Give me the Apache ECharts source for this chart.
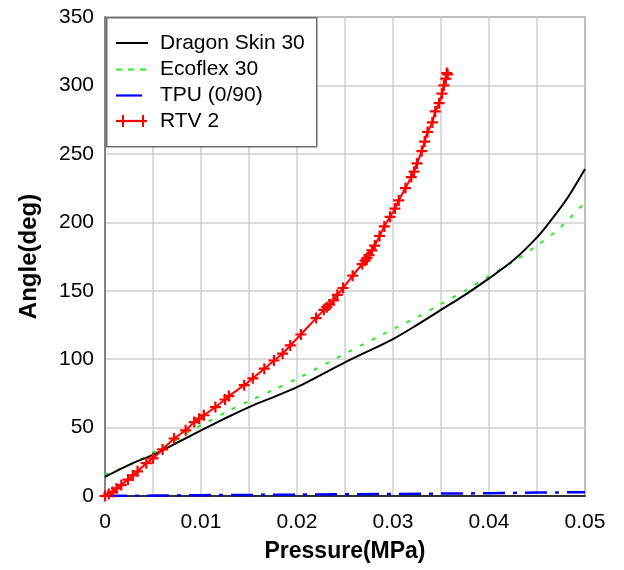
<!DOCTYPE html>
<html>
<head>
<meta charset="utf-8">
<script src="https://cdn.jsdelivr.net/npm/echarts@6/dist/echarts.min.js"></script>
<style>
html,body{margin:0;padding:0;background:#fff;}
#chart{width:624px;height:570px;}
</style>
</head>
<body>
<div id="chart"></div>
<script>
// ---- data (pressure in MPa, angle in deg) ----
const seriesNames = ['Dragon Skin 30', 'Ecoflex 30', 'TPU (0/90)', 'RTV 2'];

const dragonSkin = [
  [0,14],[0.0029,24],[0.005,30],[0.0078,40],[0.01,48],[0.0123,56],[0.015,65],
  [0.0178,73],[0.02,79.5],[0.025,97.7],[0.03,114.7],[0.0325,125],[0.035,136],[0.0375,147],
  [0.04,159],[0.0425,172],[0.045,189],[0.0464,201],[0.0481,217],[0.05,239]
];

const ecoflex = [
  [0,15.5],[0.0029,24],[0.0043,29],[0.0064,37],[0.0079,43],[0.009,48],[0.0104,53],
  [0.0128,62],[0.0152,70],[0.0177,78],[0.0203,86.7],[0.025,104],[0.0288,117.6],[0.03,121.8],
  [0.0326,131],[0.035,140.3],[0.0375,150],[0.04,160.7],[0.0425,171],[0.045,183],
  [0.0474,196],[0.0498,213],[0.05,215]
];

const tpu = [
  [0,0],[0.005,0.3],[0.01,0.6],[0.02,1],[0.03,1.5],[0.04,2],[0.045,2.5],[0.05,2.8]
];

const rtv2 = [
  [0,0],[0.0004,1.5],[0.0008,3],[0.0012,5.5],[0.0017,8],[0.0024,12],[0.0029,15],[0.0034,18],
  [0.0043,24],[0.005,27.5],[0.006,34],[0.0072,42],[0.0084,48],[0.0093,54],[0.0098,56.5],
  [0.0103,59],[0.0115,65],[0.0125,70.5],[0.0129,73],[0.0145,81],[0.0154,86],[0.0166,93],
  [0.0176,99],[0.0185,104],[0.0193,110],[0.0204,118],[0.022,130],[0.0228,136],
  [0.0231,138],[0.0234,140],[0.0238,143],[0.0242,147],[0.0248,152],[0.0258,161],
  [0.0268,169.5],[0.0271,172],[0.0273,174],[0.0275,176],[0.0278,179.5],[0.0281,183],
  [0.0286,190],[0.0291,197],[0.0297,204],[0.0302,210],[0.0306,216],[0.0313,225],
  [0.0319,233],[0.0322,237],[0.0325,243],[0.033,252],[0.0333,259],[0.0336,266],
  [0.0341,273],[0.0344,281],[0.0348,287],[0.0351,294],[0.0353,300],[0.0355,305],
  [0.0356,309],[0.0357,308]
];

const xTickLabels = ['0', '0.01', '0.02', '0.03', '0.04', '0.05'];
const yTickLabels = ['0', '50', '100', '150', '200', '250', '300', '350'];

// ---- styles ----
const FONT = 'Liberation Sans, Arial, sans-serif';
const colors = ['#000000', '#22ee22', '#0000ff', '#ff0000'];
const lineTypes = ['solid', [4, 9], [22, 8, 4, 8], 'solid'];
const legendDash = ['solid', [6, 6], 'solid', 'solid'];
const lineWidths = [2, 2, 2.5, 2];
const plusPath = 'path://M4,0H6V4H10V6H6V10H4V6H0V4H4Z';

// ---- legend drawn as graphic (box, sample lines, real text) ----
const legendRows = [43, 69.5, 95.5, 121];
const legendGraphic = [{
  type: 'rect', left: 106, top: 17, z: 100,
  shape: {width: 210, height: 129},
  style: {fill: '#ffffff', stroke: '#6e6e6e', lineWidth: 1.5}
}];
seriesNames.forEach((n, i) => {
  const y = legendRows[i];
  const x2 = i === 2 ? 142 : (i === 3 ? 147 : 148);
  legendGraphic.push({
    type: 'line', z: 101,
    shape: {x1: 116, y1: y, x2: x2, y2: y},
    style: {stroke: colors[i], lineWidth: i === 0 ? 2 : 2.2, lineDash: legendDash[i] === 'solid' ? null : legendDash[i]}
  });
  if (i === 3) {
    [123, 143].forEach(px => {
      legendGraphic.push({
        type: 'line', z: 101,
        shape: {x1: px, y1: y - 6, x2: px, y2: y + 6},
        style: {stroke: colors[i], lineWidth: 2}
      });
    });
  }
  legendGraphic.push({
    type: 'text', z: 101, x: 160, y: y,
    style: {text: n, font: '21px ' + FONT, fill: '#000', verticalAlign: 'middle', align: 'left'}
  });
});

const chart = echarts.init(document.getElementById('chart'), null, {renderer: 'canvas'});

chart.setOption({
  animation: false,
  backgroundColor: '#ffffff',
  textStyle: {fontFamily: FONT},
  grid: {
    left: 105, right: 39, top: 17, bottom: 74,
    show: true, borderColor: '#6e6e6e', borderWidth: 1.5, backgroundColor: 'transparent'
  },
  graphic: legendGraphic,
  xAxis: {
    type: 'value', min: 0, max: 0.05, interval: 0.005,
    name: 'Pressure(MPa)', nameLocation: 'middle', nameGap: 44,
    nameTextStyle: {fontFamily: FONT, fontSize: 23, fontWeight: 'bold', color: '#000'},
    axisLine: {show: true, lineStyle: {color: '#000', width: 1.5}},
    axisTick: {show: false},
    axisLabel: {
      fontFamily: FONT, fontSize: 21, color: '#000', margin: 16,
      showMinLabel: true, showMaxLabel: true,
      formatter: v => {
        const k = Math.round(v * 1000);
        return k % 10 === 0 ? xTickLabels[k / 10] : '';
      }
    },
    splitLine: {show: true, lineStyle: {color: '#cfcfcf', width: 1.5}}
  },
  yAxis: {
    type: 'value', min: 0, max: 350, interval: 50,
    name: 'Angle(deg)', nameLocation: 'middle', nameGap: 64,
    nameTextStyle: {fontFamily: FONT, fontSize: 24, fontWeight: 'bold', color: '#000'},
    axisLine: {show: true, lineStyle: {color: '#6e6e6e', width: 1.5}},
    axisTick: {show: false},
    axisLabel: {
      fontFamily: FONT, fontSize: 21, color: '#000', margin: 11,
      formatter: v => yTickLabels[Math.round(v / 50)]
    },
    splitLine: {show: true, lineStyle: {color: '#cfcfcf', width: 1.5}}
  },
  series: [
    {
      name: seriesNames[0], type: 'line', data: dragonSkin, smooth: 0.3,
      symbol: 'none', lineStyle: {color: colors[0], width: lineWidths[0], type: lineTypes[0]}, z: 3
    },
    {
      name: seriesNames[1], type: 'line', data: ecoflex, smooth: 0.3,
      symbol: 'none', lineStyle: {color: colors[1], width: lineWidths[1], type: lineTypes[1]}, z: 2
    },
    {
      name: seriesNames[2], type: 'line', data: tpu, smooth: false,
      symbol: 'none', lineStyle: {color: colors[2], width: lineWidths[2], type: lineTypes[2]}, z: 2
    },
    {
      name: seriesNames[3], type: 'line', data: rtv2, smooth: 0.2,
      symbol: plusPath, symbolSize: 11, showAllSymbol: true,
      lineStyle: {color: colors[3], width: lineWidths[3]}, itemStyle: {color: colors[3]}, z: 4
    }
  ]
});
</script>
</body>
</html>
